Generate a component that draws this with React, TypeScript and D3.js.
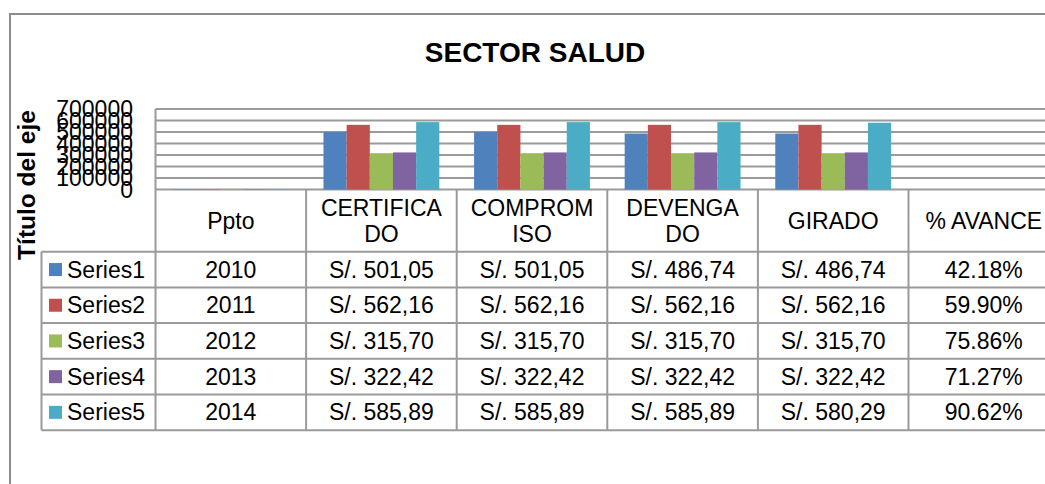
import React from 'react';
import * as d3 from 'd3';

// chart data
const categories = ['Ppto', 'CERTIFICADO', 'COMPROMISO', 'DEVENGADO', 'GIRADO', '% AVANCE'];
const headerLines = [['Ppto'], ['CERTIFICA', 'DO'], ['COMPROM', 'ISO'], ['DEVENGA', 'DO'], ['GIRADO'], ['% AVANCE']];
const seriesNames = ['Series1', 'Series2', 'Series3', 'Series4', 'Series5'];
const seriesColors = ['#4F81BD', '#C0504D', '#9BBB59', '#8064A2', '#4BACC6'];

const series1 = [2010, 501050, 501050, 486740, 486740, 0.4218];
const series2 = [2011, 562160, 562160, 562160, 562160, 0.599];
const series3 = [2012, 315700, 315700, 315700, 315700, 0.7586];
const series4 = [2013, 322420, 322420, 322420, 322420, 0.7127];
const series5 = [2014, 585890, 585890, 585890, 580290, 0.9062];
const seriesValues = [series1, series2, series3, series4, series5];

const yTicks = [0, 100000, 200000, 300000, 400000, 500000, 600000, 700000];

const width = 1045;
const height = 484;
const font = "'Liberation Sans', Arial, sans-serif";
const gridColor = '#9a9a9a';

// formats a table cell from the raw value of its column
function cellText(v: number, col: number) {
  if (col === 0) return String(v);
  if (col === 5) return (v * 100).toFixed(2) + '%';
  return 'S/. ' + (v / 1000).toFixed(2).replace('.', ',');
}

export default function App() {
  const plotLeft = 155.5;
  const colW = 150.6;
  const plotTop = 109;
  const plotBottom = 189.5;
  const headerBottom = 251.7;
  const rowH = 35.7;
  const legendLeft = 41.5;

  const x = d3.scaleBand<string>()
    .domain(categories)
    .range([plotLeft, plotLeft + colW * categories.length]);
  const xs = d3.scaleBand<string>()
    .domain(seriesNames)
    .range([0, x.bandwidth()])
    .paddingInner(0)
    .paddingOuter(0.75);
  const y = d3.scaleLinear().domain([0, 700000]).range([plotBottom, plotTop]);

  const tableBottom = headerBottom + rowH * seriesNames.length;
  const rightEdge = plotLeft + colW * categories.length;

  return (
    <svg width={width} height={height} style={{ position: 'absolute', left: 0, top: 0, background: '#fff' }}
      fontFamily={font}>
      {/* chart frame */}
      <path d={`M10,${height} V14 H${width}`} fill="none" stroke="#8c8c8c" strokeWidth={2} />

      <text x={535} y={62} textAnchor="middle" fontSize={28} fontWeight="bold">SECTOR SALUD</text>

      <text transform={`translate(35,185) rotate(-90)`} textAnchor="middle" fontSize={24.5} fontWeight="bold">
        Título del eje
      </text>

      {/* gridlines */}
      {yTicks.map(t => (
        <line key={t} x1={plotLeft} x2={rightEdge} y1={y(t)} y2={y(t)} stroke={gridColor} strokeWidth={2} />
      ))}
      {yTicks.map(t => (
        <text key={'l' + t} x={133} y={y(t)} dy="0.35em" textAnchor="end" fontSize={23}>{t}</text>
      ))}

      {/* bars */}
      {seriesValues.map((vals, si) => (
        <g key={si} fill={seriesColors[si]}>
          {vals.map((v, ci) => (
            <rect key={ci}
              x={(x(categories[ci]) ?? 0) + (xs(seriesNames[si]) ?? 0)}
              y={y(v)}
              width={xs.bandwidth()}
              height={plotBottom - y(v)} />
          ))}
        </g>
      ))}

      {/* data table */}
      <g stroke={gridColor} strokeWidth={2} fill="none">
        <line x1={plotLeft} x2={plotLeft} y1={plotTop} y2={tableBottom} />
        {categories.map((c, i) => (
          <line key={c} x1={plotLeft + colW * (i + 1)} x2={plotLeft + colW * (i + 1)} y1={plotBottom} y2={tableBottom} />
        ))}
        <line x1={legendLeft} x2={legendLeft} y1={headerBottom} y2={tableBottom} />
        {d3.range(seriesNames.length + 1).map(r => (
          <line key={r} x1={legendLeft} x2={rightEdge} y1={headerBottom + rowH * r} y2={headerBottom + rowH * r} />
        ))}
      </g>

      {headerLines.map((lines, i) => (
        <text key={i} x={(x(categories[i]) ?? 0) + colW / 2} textAnchor="middle" fontSize={23}>
          {lines.map((ln, k) => (
            <tspan key={k} x={(x(categories[i]) ?? 0) + colW / 2}
              y={(plotBottom + headerBottom) / 2 + (k - (lines.length - 1) / 2) * 26}
              dy="0.35em">{ln}</tspan>
          ))}
        </text>
      ))}

      {seriesNames.map((s, si) => {
        const cy = headerBottom + rowH * si + rowH / 2;
        return (
          <g key={s}>
            <rect x={49} y={cy - 6.5} width={13} height={13} fill={seriesColors[si]} />
            <text x={67} y={cy} dy="0.35em" fontSize={23}>{s}</text>
            {seriesValues[si].map((v, ci) => (
              <text key={ci} x={(x(categories[ci]) ?? 0) + colW / 2} y={cy} dy="0.35em"
                textAnchor="middle" fontSize={23}>{cellText(v, ci)}</text>
            ))}
          </g>
        );
      })}
    </svg>
  );
}
